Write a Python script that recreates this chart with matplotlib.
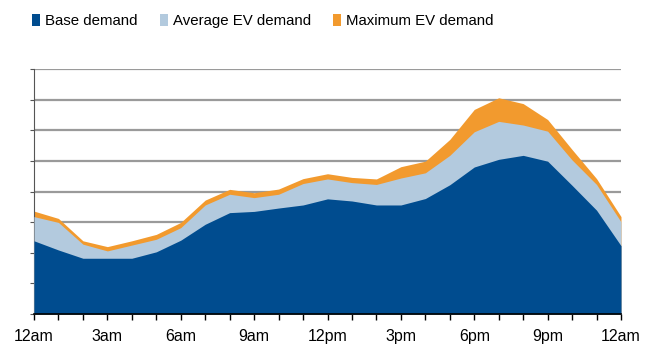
import matplotlib
matplotlib.use("Agg")
import matplotlib.pyplot as plt
from matplotlib.patches import Patch
import numpy as np

hours = list(range(25))
tick_hours = [0, 3, 6, 9, 12, 15, 18, 21, 24]
tick_labels = ["12am", "3am", "6am", "9am", "12pm", "3pm", "6pm", "9pm", "12am"]

base_demand = [2.39, 2.09, 1.82, 1.82, 1.82, 2.03, 2.41, 2.93, 3.31, 3.35, 3.46, 3.56, 3.76,
               3.69, 3.56, 3.56, 3.77, 4.22, 4.80, 5.05, 5.18, 4.99, 4.20, 3.39, 2.23]
avg_ev_total = [3.18, 2.99, 2.28, 2.06, 2.25, 2.44, 2.82, 3.56, 3.91, 3.80, 3.91, 4.26, 4.41,
                4.29, 4.23, 4.44, 4.61, 5.18, 5.95, 6.29, 6.17, 5.97, 5.03, 4.23, 3.01]
max_ev_total = [3.36, 3.12, 2.39, 2.20, 2.39, 2.60, 2.99, 3.72, 4.07, 3.96, 4.08, 4.42, 4.58,
                4.46, 4.41, 4.81, 4.99, 5.70, 6.68, 7.06, 6.87, 6.35, 5.37, 4.42, 3.18]

series_names = ["Base demand", "Average EV demand", "Maximum EV demand"]
colors = ["#004C8F", "#B3CADE", "#F29A2E"]

plt.rcParams['font.family'] = ['Liberation Sans', 'DejaVu Sans']

fig = plt.figure(figsize=(6.48, 3.45), dpi=100)
ax = fig.add_axes([34/648, 31/345, (621-34)/648, (314-69)/345])

x = np.array(hours)
ax.fill_between(x, 0, max_ev_total, color=colors[2], lw=0, zorder=2)
ax.fill_between(x, 0, avg_ev_total, color=colors[1], lw=0, zorder=3)
ax.fill_between(x, 0, base_demand, color=colors[0], lw=0, zorder=4)

ax.set_xlim(0, 24)
ax.set_ylim(0, 8)
ax.set_yticks(range(0, 9))
ax.yaxis.grid(True, color="#9a9a9a", lw=1.6, zorder=1)
ax.set_axisbelow(True)
ax.tick_params(axis='y', labelleft=False, length=3, width=0.8, color="#555555")

ax.set_xticks(tick_hours)
ax.set_xticklabels(tick_labels, fontsize=11.5)
ax.set_xticks(hours, minor=True)
ax.tick_params(axis='x', which='both', length=4, width=1, color="black", pad=7)

for s in ["top", "right"]:
    ax.spines[s].set_visible(False)
ax.spines["bottom"].set_color("black")
ax.spines["bottom"].set_linewidth(1.2)
ax.spines["bottom"].set_zorder(6)
ax.spines["left"].set_color("#555555")
ax.spines["left"].set_linewidth(0.8)
ax.spines["left"].set_bounds(0, 8)

handles = [Patch(facecolor=c, edgecolor='none') for c in colors]
fig.legend(handles, series_names, loc="center", bbox_to_anchor=(263/648, 1 - 21/345),
           ncol=3, frameon=False, fontsize=10.8, handlelength=0.5, handleheight=0.9,
           handletextpad=0.35, columnspacing=1.5)

fig.savefig("out.png", dpi=100)
